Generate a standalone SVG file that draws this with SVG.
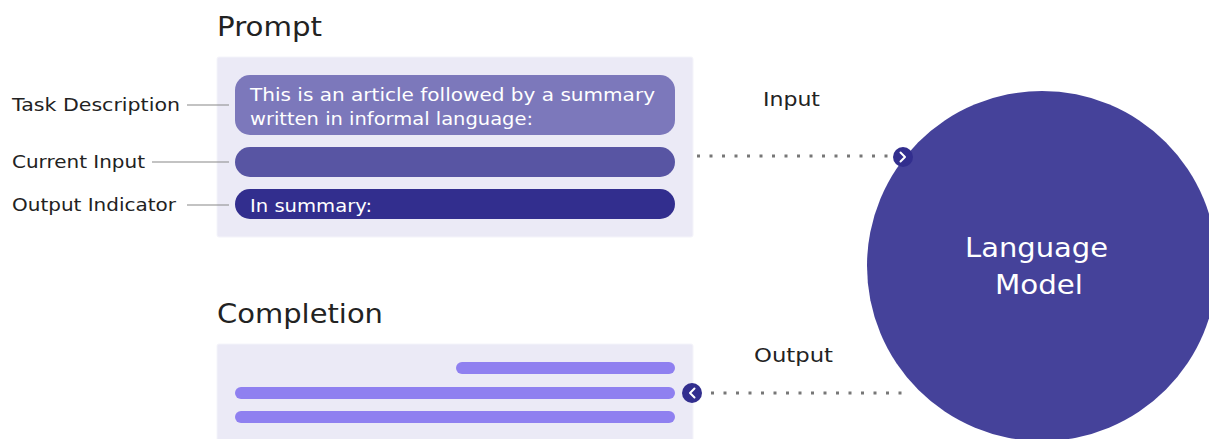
<svg xmlns="http://www.w3.org/2000/svg" width="1209" height="439" viewBox="0 0 1209 439">
<style>
text{font-family:"DejaVu Sans","Liberation Sans",sans-serif}
.title{font-size:27px;fill:#222}
.lbl{font-size:17px;fill:#222}
.io{font-size:19px;fill:#222}
.pill{font-size:18px;fill:#fff}
.lead{stroke:#888;stroke-width:1.2}
.dots{stroke:#777;stroke-width:3;stroke-dasharray:3 9.5;fill:none}
.chev{stroke:#fff;stroke-width:2;fill:none;stroke-linecap:round;stroke-linejoin:round}
</style>
<rect width="1209" height="439" fill="#fff"/>
<g id="prompt">
<text class="title" x="217" y="36" textLength="105" lengthAdjust="spacingAndGlyphs">Prompt</text>
<rect x="217" y="57" width="476" height="180" rx="2" fill="#ebeaf6" stroke="#f4f4fa"/>
</g>
<g id="task-description">
<rect x="235" y="75" width="440" height="60" rx="15" fill="#7c78bb"/>
<text class="pill" x="250" y="101" textLength="405" lengthAdjust="spacingAndGlyphs">This is an article followed by a summary</text>
<text class="pill" x="250" y="125" textLength="283" lengthAdjust="spacingAndGlyphs">written in informal language:</text>
<text class="lbl" x="12" y="111" textLength="168" lengthAdjust="spacingAndGlyphs">Task Description</text>
</g>
<g id="current-input">
<rect x="235" y="147" width="440" height="30" rx="15" fill="#5855a3"/>
<text class="lbl" x="12" y="168" textLength="133" lengthAdjust="spacingAndGlyphs">Current Input</text>
</g>
<g id="output-indicator">
<rect x="235" y="189" width="440" height="30" rx="15" fill="#322e8e"/>
<text class="pill" x="250" y="212" textLength="122" lengthAdjust="spacingAndGlyphs">In summary:</text>
<text class="lbl" x="12" y="211" textLength="164" lengthAdjust="spacingAndGlyphs">Output Indicator</text>
</g>
<g id="completion">
<text class="title" x="217" y="323" textLength="166" lengthAdjust="spacingAndGlyphs">Completion</text>
<rect x="217" y="344" width="476" height="100" rx="2" fill="#ebeaf6" stroke="#f4f4fa"/>
<rect x="456" y="362" width="219" height="12" rx="6" fill="#8f80f0"/>
<rect x="235" y="387" width="440" height="12" rx="6" fill="#8f80f0"/>
<rect x="235" y="411" width="440" height="12" rx="6" fill="#8f80f0"/>
</g>
<g id="language-model">
<circle cx="1042" cy="266" r="175" fill="#45429a"/>
<text x="965" y="257" font-size="27" fill="#fff" textLength="143" lengthAdjust="spacingAndGlyphs">Language</text>
<text x="995" y="294" font-size="27" fill="#fff" textLength="88" lengthAdjust="spacingAndGlyphs">Model</text>
</g>
<g id="connectors">
<line class="lead" x1="187" y1="105" x2="229" y2="105"/>
<line class="lead" x1="152" y1="162" x2="229" y2="162"/>
<line class="lead" x1="187" y1="205" x2="229" y2="205"/>
<line class="dots" x1="697" y1="156" x2="893" y2="156"/>
<circle cx="903" cy="157" r="10" fill="#322e8e"/>
<path class="chev" d="M900.5 152.5 L905 157 L900.5 161.5"/>
<text class="io" x="763" y="106" textLength="57" lengthAdjust="spacingAndGlyphs">Input</text>
<line class="dots" x1="711" y1="393" x2="908" y2="393"/>
<circle cx="692" cy="393" r="10" fill="#322e8e"/>
<path class="chev" d="M694.5 388.5 L690 393 L694.5 397.5"/>
<text class="io" x="754" y="362" textLength="79" lengthAdjust="spacingAndGlyphs">Output</text>
</g>
</svg>
